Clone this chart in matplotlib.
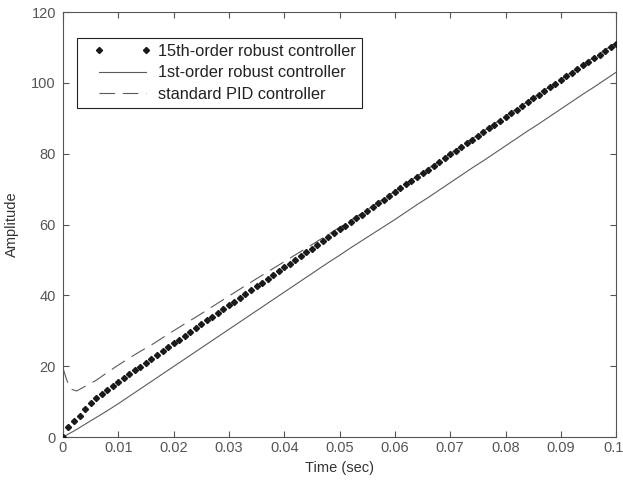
import numpy as np
import matplotlib
matplotlib.use("Agg")
from matplotlib import pyplot as plt
from matplotlib import transforms
from matplotlib.lines import Line2D
from matplotlib.legend_handler import HandlerLine2D

plt.rcParams['font.family'] = ['Liberation Sans', 'DejaVu Sans']

# 15th-order robust controller, sampled every 1 ms
t_15 = np.linspace(0, 0.1, 101)
y_15 = [0.0, 2.7, 4.6, 6.0, 8.0, 9.6, 11.0, 12.2, 13.3, 14.4,
        15.5, 16.6, 17.7, 18.8, 19.8, 20.9, 22.0, 23.1, 24.2, 25.3,
        26.5, 27.5, 28.6, 29.7, 30.8, 31.8, 32.9, 34.0, 35.0, 36.1,
        37.2, 38.2, 39.3, 40.4, 41.4, 42.5, 43.6, 44.6, 45.7, 46.8,
        47.9, 48.9, 50.0, 51.1, 52.1, 53.2, 54.3, 55.3, 56.4, 57.5,
        58.6, 59.6, 60.7, 61.7, 62.8, 63.9, 64.9, 66.0, 67.0, 68.1,
        69.2, 70.2, 71.3, 72.3, 73.4, 74.5, 75.5, 76.6, 77.6, 78.7,
        79.8, 80.8, 81.9, 82.9, 84.0, 85.1, 86.1, 87.2, 88.2, 89.3,
        90.4, 91.4, 92.4, 93.5, 94.5, 95.6, 96.6, 97.6, 98.7, 99.7,
        100.8, 101.8, 102.8, 103.9, 104.9, 105.9, 107.0, 108.0, 109.0, 110.0,
        111.0]

# 1st-order robust controller, every 2 ms
t_1 = np.linspace(0, 0.1, 51)
y_1 = [0.0, 1.7, 3.6, 5.5, 7.4, 9.4, 11.5, 13.6, 15.7, 17.8,
       19.9, 22.0, 24.1, 26.2, 28.3, 30.4, 32.5, 34.6, 36.7, 38.8,
       40.9, 43.0, 45.1, 47.2, 49.3, 51.3, 53.4, 55.4, 57.4, 59.4,
       61.4, 63.5, 65.6, 67.6, 69.7, 71.8, 73.9, 76.0, 78.0, 80.1,
       82.2, 84.3, 86.4, 88.4, 90.5, 92.6, 94.7, 96.8, 98.8, 100.9,
       103.0]

# standard PID controller
t_pid = [0.0, 0.0005, 0.001, 0.0015, 0.0025, 0.004, 0.006, 0.008, 0.010,
         0.012, 0.014, 0.016, 0.018, 0.020, 0.025, 0.030, 0.035, 0.040,
         0.045, 0.050, 0.055, 0.060, 0.070, 0.080, 0.090, 0.100]
y_pid = [19.5, 17.0, 14.8, 13.5, 13.0, 14.3, 16.0, 18.2, 20.3,
         22.3, 24.2, 26.0, 28.0, 30.0, 34.8, 39.8, 44.7, 49.5,
         54.3, 59.2, 64.2, 69.4, 80.0, 90.6, 101.0, 111.4]

labels = ["15th-order robust controller", "1st-order robust controller",
          "standard PID controller"]
x_ticks = [0, 0.01, 0.02, 0.03, 0.04, 0.05, 0.06, 0.07, 0.08, 0.09, 0.1]
x_ticklabels = ["0", "0.01", "0.02", "0.03", "0.04", "0.05", "0.06",
                "0.07", "0.08", "0.09", "0.1"]
y_ticks = [0, 20, 40, 60, 80, 100, 120]

fig = plt.figure(figsize=(6.23, 4.86), dpi=100)
ax = fig.add_axes([0.101, 0.1008, 0.888, 0.8745])

ax.plot(t_15, y_15, linestyle='none', marker='D', markersize=3.1,
        color='#1a1a1a', label=labels[0], zorder=3)
ax.plot(t_1, y_1, color='#5a5a5a', linewidth=0.8, label=labels[1])
ax.plot(t_pid, y_pid, color='#5a5a5a', linewidth=0.8, dashes=(14, 7),
        label=labels[2])

ax.set_xlim(0, 0.1)
ax.set_ylim(0, 120)
ax.set_xticks(x_ticks)
ax.set_xticklabels(x_ticklabels)
ax.set_yticks(y_ticks)

ax.tick_params(direction='in', top=True, right=True, length=4, width=0.8,
               labelsize=10.5, colors='#555555')
ax.tick_params(axis='x', pad=3)
ax.tick_params(axis='y', pad=5)
for s in ax.spines.values():
    s.set_color('#555555')
    s.set_linewidth(0.8)

# keep the last x label inside the canvas
last = ax.get_xticklabels()[-1]
last.set_transform(last.get_transform() +
                   transforms.ScaledTranslation(-3 / 100, 0, fig.dpi_scale_trans))

ax.set_xlabel("Time (sec)", fontsize=10.5, color='#333333', labelpad=4)
ax.set_ylabel("Amplitude", fontsize=10.5, color='#333333', labelpad=9)

leg = ax.legend(loc='upper left', bbox_to_anchor=(0.025, 0.94), borderaxespad=0,
                numpoints=2, handlelength=4.1, fontsize=11.8, fancybox=False,
                framealpha=1, edgecolor='#222222', borderpad=0.4,
                labelspacing=0.38, handletextpad=0.45,
                handler_map={Line2D: HandlerLine2D(xpad=0.65)})
leg.get_frame().set_linewidth(0.8)
for txt in leg.get_texts():
    txt.set_color('#222222')

fig.savefig("out.png", dpi=100)
